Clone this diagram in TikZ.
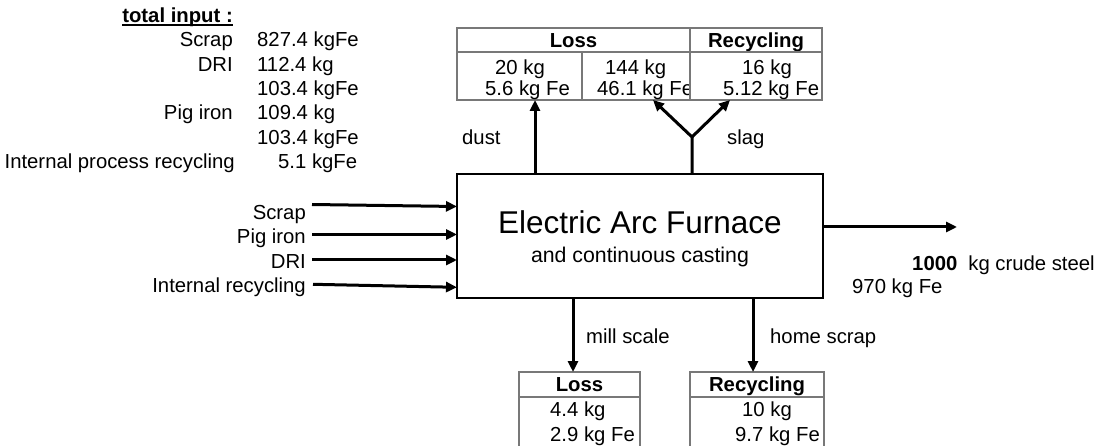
\documentclass[tikz,border=0pt]{standalone}
\usepackage{fontspec}
\setmainfont{Liberation Sans}
\usetikzlibrary{arrows.meta,calc}
\definecolor{cellgray}{RGB}{120,120,120}

\begin{document}
\begin{tikzpicture}[x=1pt,y=-1pt,font=\fontsize{20.3}{24}\selectfont,
	>={Triangle[length=11pt,width=10pt]},
	flow/.style={->,line width=3pt},
	cell/.style={draw=cellgray,line width=1.2pt,inner sep=0pt,outer sep=0pt,anchor=north west,
		text height=14.5pt,text depth=0pt,font=\fontsize{20.3}{24}\selectfont\bfseries},
	txt/.style={inner sep=0pt,anchor=base west},
	rtxt/.style={inner sep=0pt,anchor=base east}]
	\useasboundingbox (0,0) rectangle (1097,446);
	% total input
	\node[rtxt] (intitle) at (233,22.7) {\textbf{total input :}};
	\draw[line width=1.6pt] ([yshift=-2.6pt]intitle.base west) -- ([yshift=-2.6pt]intitle.base east);
	\node[rtxt] (inscrapname) at (233,46.7) {Scrap};
	\node[txt] (inscrapval) at (257,46.7) {827.4 kgFe};
	\node[rtxt] (indriname) at (233,71.2) {DRI};
	\node[txt] (indrikg) at (257,71.2) {112.4 kg};
	\node[txt] (indrife) at (257,95.6) {103.4 kgFe};
	\node[rtxt] (inpigname) at (233,120) {Pig iron};
	\node[txt] (inpigkg) at (257,120) {109.4 kg};
	\node[txt] (inpigfe) at (257,144.4) {103.4 kgFe};
	\node[rtxt] (inrecname) at (235,168.6) {Internal process recycling};
	\node[txt] (inrecval) at (278,168.6) {5.1 kgFe};
	% furnace
	\node[draw,line width=1.6pt,minimum width=366pt,minimum height=124pt,inner sep=0pt,outer sep=0pt] (eaf) at (640,236) {};
	\node[inner sep=0pt,anchor=base,font=\fontsize{31.5}{36}\selectfont] (eaftitle) at (640,234) {Electric Arc Furnace};
	\node[inner sep=0pt,anchor=base,font=\fontsize{21.3}{24}\selectfont] (eafsub) at (640,263) {and continuous casting};
	% top table
	\node[cell,minimum width=233pt,minimum height=24pt] (losshead) at (457,28) {Loss};
	\node[cell,minimum width=132pt,minimum height=24pt] (rechead) at (690,28) {Recycling};
	\node[cell,minimum width=125pt,minimum height=48pt] (dustcell) at (457,52) {};
	\node[cell,minimum width=108pt,minimum height=48pt] (slagcell) at (582,52) {};
	\node[cell,minimum width=132pt,minimum height=48pt] (reccell) at (690,52) {};
	\node[txt] (dustkg) at (495,75) {20 kg};
	\node[txt] (dustfe) at (485,96) {5.6 kg Fe};
	\node[txt] (slagkg) at (605,75) {144 kg};
	\begin{scope}
		\clip (slagcell.north west) rectangle ([xshift=-2pt]slagcell.south east);
		\node[txt] (slagfe) at (597,96) {46.1 kg Fe};
	\end{scope}
	\node[txt] (reckg) at (742,75) {16 kg};
	\node[txt] (recfe) at (723,96) {5.12 kg Fe};
	% bottom tables
	\node[cell,minimum width=121pt,minimum height=25pt] (millhead) at (519,372) {Loss};
	\node[cell,minimum width=121pt,minimum height=50pt] (millcell) at (519,397) {};
	\node[cell,minimum width=134pt,minimum height=25pt] (homehead) at (690,372) {Recycling};
	\node[cell,minimum width=134pt,minimum height=50pt] (homecell) at (690,397) {};
	\node[txt] (millkg) at (550,416.5) {4.4 kg};
	\node[txt] (millfe) at (550,441.5) {2.9 kg Fe};
	\node[txt] (homekg) at (742,416.5) {10 kg};
	\node[txt] (homefe) at (735,441.5) {9.7 kg Fe};
	% flows out, top
	\coordinate (dustx) at (535,0);
	\draw[flow] (eaf.north -| dustx) -- (dustcell.south -| dustx);
	\coordinate (slagfork) at (692,137);
	\coordinate (slagtoloss) at (653,100);
	\coordinate (slagtorec) at (730,100);
	\draw[flow] (eaf.north -| slagfork) -- (slagfork) -- (slagtoloss);
	\draw[flow] (slagfork) -- (slagtorec);
	\node[txt] (dustlabel) at (462,145) {dust};
	\node[txt] (slaglabel) at (727,145) {slag};
	% flows out, bottom
	\coordinate (millx) at (573,0);
	\coordinate (homex) at (753,0);
	\draw[flow] (eaf.south -| millx) -- (millhead.north -| millx);
	\draw[flow] (eaf.south -| homex) -- (homehead.north -| homex);
	\node[txt] (milllabel) at (586,343) {mill scale};
	\node[txt] (homelabel) at (770,343) {home scrap};
	% inputs
	\coordinate (scrapin) at (312,204.5);
	\coordinate (pigin) at (312,234.5);
	\coordinate (driin) at (312,260);
	\coordinate (recin) at (313,284.3);
	\draw[flow] (scrapin) -- ($(eaf.west |- scrapin)+(0,2)$);
	\draw[flow] (pigin) -- (eaf.west |- pigin);
	\draw[flow] (driin) -- (eaf.west |- driin);
	\draw[flow] (recin) -- ($(eaf.west |- recin)+(0,3)$);
	\node[rtxt] (scraplabel) at (306,219.3) {Scrap};
	\node[rtxt] (piglabel) at (306,244) {Pig iron};
	\node[rtxt] (drilabel) at (306,268.3) {DRI};
	\node[rtxt] (reclabel) at (306,292.7) {Internal recycling};
	% output
	\coordinate (steelout) at (957,227);
	\draw[flow] (eaf.east |- steelout) -- (steelout);
	\node[txt] (steelkg) at (912,270) {\textbf{1000}\hspace{11pt}kg crude steel};
	\node[txt] (steelfe) at (852,294) {970 kg Fe};
\end{tikzpicture}
\end{document}
